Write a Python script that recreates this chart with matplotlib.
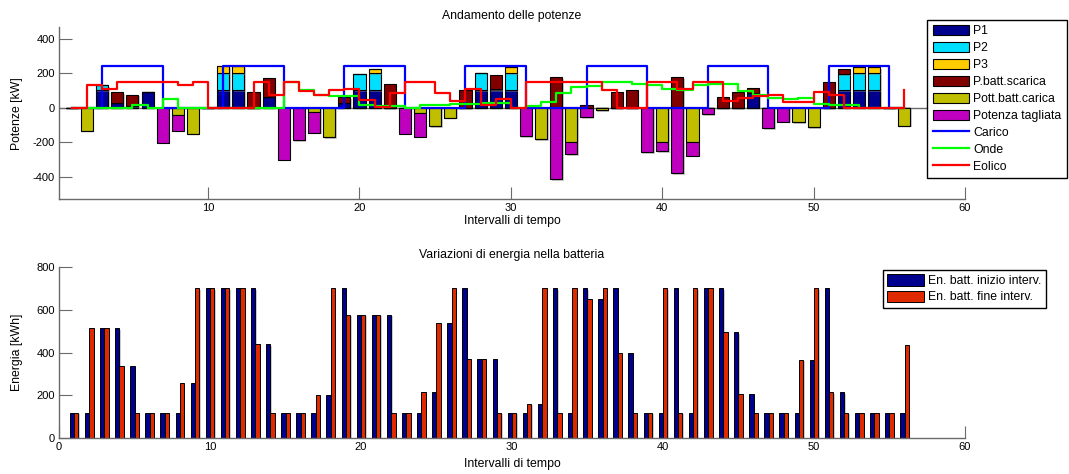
import matplotlib
matplotlib.use("Agg")
import matplotlib.pyplot as plt
import matplotlib.patheffects as pe
import numpy as np
from matplotlib.patches import Patch
from matplotlib.lines import Line2D

plt.rcParams["font.family"] = ["Liberation Sans", "DejaVu Sans"]
plt.rcParams["font.size"] = 8.8
plt.rcParams["axes.unicode_minus"] = False

# intervalli 1..56
intervalli = list(range(1, 57))

# potenze [kW] (barre)
p1 = [0, 0, 100, 29, 8, 91, 0, 0, 0, 0,
      100, 100, 0, 65, 0, 0, 0, 0, 27, 100,
      100, 0, 0, 0, 0, 0, 0, 100, 100, 100,
      0, 0, 0, 0, 0, 0, 0, 0, 0, 0,
      0, 0, 0, 0, 0, 85, 0, 0, 0, 0,
      0, 100, 100, 100, 0, 0]
p2 = [0, 0, 30, 0, 0, 0, 0, 0, 0, 0,
      100, 100, 0, 0, 0, 0, 0, 0, 0, 97,
      100, 0, 0, 0, 0, 0, 0, 100, 7, 100,
      0, 0, 0, 0, 0, 0, 0, 0, 0, 0,
      0, 0, 0, 0, 0, 0, 0, 0, 0, 0,
      0, 94, 100, 100, 0, 0]
p3 = [0, 0, 0, 0, 0, 0, 0, 0, 0, 0,
      40, 40, 0, 0, 0, 0, 0, 0, 0, 0,
      25, 0, 0, 0, 0, 0, 0, 0, 0, 33,
      0, 0, 0, 0, 0, 0, 0, 0, 0, 0,
      0, 0, 0, 0, 0, 0, 0, 0, 0, 0,
      0, 0, 33, 33, 0, 0]
scarica = [0, 0, 0, 60, 66, 0, 0, 0, 0, 0,
           0, 0, 90, 105, 0, 0, 0, 0, 33, 0,
           0, 137, 0, 0, 0, 0, 100, 0, 81, 0,
           0, 0, 176, 0, 15, 0, 90, 102, 0, 0,
           176, 0, 0, 64, 90, 27, 0, 0, 0, 0,
           149, 30, 0, 0, 0, 0]
carica = [0, -135, 0, 0, 0, 0, 0, -44, -150, 0,
          0, 0, 0, 0, 0, 0, -27, -172, 0, 0,
          0, 0, 0, -33, -108, -58, 0, 0, 0, 0,
          0, -183, 0, -197, 0, -15, 0, 0, 0, -197,
          0, -197, 0, 0, 0, 0, 0, 0, -85, -114,
          0, 0, 0, 0, 0, -106]
tagliata = [0, 0, 0, 0, 0, 0, -203, -91, 0, 0,
            0, 0, 0, 0, -300, -189, -118, 0, 0, 0,
            0, 0, -150, -135, 0, 0, 0, 0, 0, 0,
            -166, 0, -415, -73, -56, 0, 0, 0, -258, -56,
            -379, -81, -38, 0, 0, 0, -120, -81, 0, 0,
            0, 0, 0, 0, 0, 0]

# potenze [kW] (gradini)
carico = [0, 0, 240, 240, 240, 240, 0, 0] * 7
onde = [0, 0, 0, 0, 15, 0, 52, 0, 0, 0,
        0, 0, 0, 0, 147, 100, 75, 70, 70, 15,
        12, 12, 0, 18, 18, 20, 22, 30, 30, 0,
        12, 33, 85, 118, 128, 150, 150, 140, 133, 110,
        100, 133, 136, 136, 99, 72, 56, 48, 56, 22,
        16, 16, 0, 0, 0, 0]
eolico = [0, 130, 110, 151, 151, 151, 151, 130, 151, 0,
          0, 0, 151, 72, 150, 95, 71, 102, 106, 44,
          3, 86, 150, 150, 87, 39, 106, 18, 51, 0,
          150, 150, 150, 150, 150, 104, 0, 0, 150, 150,
          110, 150, 150, 40, 55, 66, 71, 36, 36, 94,
          76, 0, 0, 0, 0, 104]

# energia batteria [kWh]
en_inizio = [120, 120, 513, 513, 336, 120, 120, 120, 258, 700,
             700, 700, 700, 438, 120, 120, 120, 200, 700, 575,
             575, 575, 120, 120, 217, 536, 700, 368, 368, 120,
             120, 160, 700, 120, 700, 650, 700, 400, 120, 120,
             700, 120, 700, 700, 495, 205, 120, 120, 120, 365,
             700, 214, 120, 120, 120, 120]
en_fine = [120, 513, 513, 336, 120, 120, 120, 258, 700, 700,
           700, 700, 438, 120, 120, 120, 200, 700, 575, 575,
           575, 120, 120, 217, 536, 700, 368, 368, 120, 120,
           160, 700, 120, 700, 650, 700, 400, 120, 120, 700,
           120, 700, 700, 495, 205, 120, 120, 120, 365, 700,
           214, 120, 120, 120, 120, 435]

C_P1 = "#00008F"
C_P2 = "#00DFFF"
C_P3 = "#FFCC00"
C_SCA = "#800000"
C_CAR = "#BFBF00"
C_TAG = "#BF00BF"
C_INI = "#00008F"
C_FIN = "#DF2A00"
AX_GRAY = "#6a6a6a"
FS = 8.8
SHADOW = [pe.SimplePatchShadow(offset=(1.0, -1.0), shadow_rgbFace="0.55", alpha=0.45),
          pe.Normal()]


def style_axes(ax, xlab_y):
    for s in ("top", "right"):
        ax.spines[s].set_visible(False)
    for s in ("left", "bottom"):
        ax.spines[s].set_color(AX_GRAY)
        ax.spines[s].set_linewidth(1.0)
    ax.tick_params(direction="in", length=9, width=0.8, color=AX_GRAY,
                   labelsize=8, pad=3)
    ax.yaxis.set_label_coords(-0.0464, 0.5)
    ax.xaxis.set_label_coords(0.5, xlab_y)


def shade(container):
    for p in container:
        p.set_path_effects(SHADOW)


fig = plt.figure(figsize=(10.69, 4.74), dpi=100)
ax1 = fig.add_axes([0.0552, 0.5802, 0.8475, 0.362])
ax2 = fig.add_axes([0.0552, 0.0753, 0.8475, 0.362])

x = np.array(intervalli)
a1, a2, a3, asc = map(np.array, (p1, p2, p3, scarica))
acar, atag = np.array(carica), np.array(tagliata)
bk = dict(width=0.8, edgecolor="black", linewidth=0.8, zorder=2)

for bars in (
    ax1.bar(x, a1, color=C_P1, **bk),
    ax1.bar(x, a2, bottom=a1, color=C_P2, **bk),
    ax1.bar(x, a3, bottom=a1 + a2, color=C_P3, **bk),
    ax1.bar(x, asc, bottom=a1 + a2 + a3, color=C_SCA, **bk),
    ax1.bar(x, acar, color=C_CAR, **bk),
    ax1.bar(x, atag, bottom=acar, color=C_TAG, **bk),
):
    shade(bars)
ax1.axhline(0, color=AX_GRAY, linewidth=1.0, zorder=1.5)

ax1.step(x, carico, where="post", color="#0000FF", linewidth=1.6, zorder=3)
ax1.step(x, onde, where="post", color="#00FF00", linewidth=1.6, zorder=3)
ax1.step(x, eolico, where="post", color="#FF0000", linewidth=1.6, zorder=3)

ax1.set_xlim(0.15, 60)
ax1.set_ylim(-528, 465)
ax1.set_xticks([10, 20, 30, 40, 50, 60])
ax1.set_yticks([-400, -200, 0, 200, 400])
ax1.set_title("Andamento delle potenze", fontsize=FS, pad=6)
ax1.set_xlabel("Intervalli di tempo", fontsize=FS, va="center")
ax1.set_ylabel("Potenze [kW]", fontsize=FS, va="center")
style_axes(ax1, -0.128)

handles = [Patch(facecolor=c, edgecolor="black", linewidth=0.8)
           for c in (C_P1, C_P2, C_P3, C_SCA, C_CAR, C_TAG)]
handles += [Line2D([], [], color=c, linewidth=1.6) for c in ("#0000FF", "#00FF00", "#FF0000")]
labels = ["P1", "P2", "P3", "P.batt.scarica", "Pott.batt.carica",
          "Potenza tagliata", "Carico", "Onde", "Eolico"]
leg1 = fig.legend(handles, labels, loc="upper right", bbox_to_anchor=(0.998, 0.958),
                  fontsize=FS, frameon=True, fancybox=False, framealpha=1,
                  edgecolor="black", handlelength=2.95, handleheight=0.9,
                  labelspacing=0.38, handletextpad=0.4, borderpad=0.42,
                  borderaxespad=0)
leg1.get_frame().set_linewidth(1.0)

# energia
w = 0.285
bi = ax2.bar(x - w / 2, en_inizio, width=w, color=C_INI, edgecolor="black",
             linewidth=0.7, zorder=2)
bf = ax2.bar(x + w / 2, en_fine, width=w, color=C_FIN, edgecolor="black",
             linewidth=0.7, zorder=2)
shade(bi)
shade(bf)
ax2.set_xlim(0, 60)
ax2.set_ylim(0, 800)
ax2.set_xticks([0, 10, 20, 30, 40, 50, 60])
ax2.set_yticks([0, 200, 400, 600, 800])
ax2.set_title("Variazioni di energia nella batteria", fontsize=FS, pad=6)
ax2.set_xlabel("Intervalli di tempo", fontsize=FS, va="center")
ax2.set_ylabel("Energia [kWh]", fontsize=FS, va="center")
style_axes(ax2, -0.15)

leg2 = fig.legend([Patch(facecolor=C_INI, edgecolor="black", linewidth=0.7),
                   Patch(facecolor=C_FIN, edgecolor="black", linewidth=0.7)],
                  ["En. batt. inizio interv.", "En. batt. fine interv."],
                  loc="upper right", bbox_to_anchor=(0.9785, 0.4304),
                  fontsize=FS, frameon=True, fancybox=False, framealpha=1,
                  edgecolor="black", handlelength=3.0, handleheight=1.05,
                  labelspacing=0.28, handletextpad=0.35, borderpad=0.35,
                  borderaxespad=0)
leg2.get_frame().set_linewidth(1.0)

fig.savefig("out.png", dpi=100)
